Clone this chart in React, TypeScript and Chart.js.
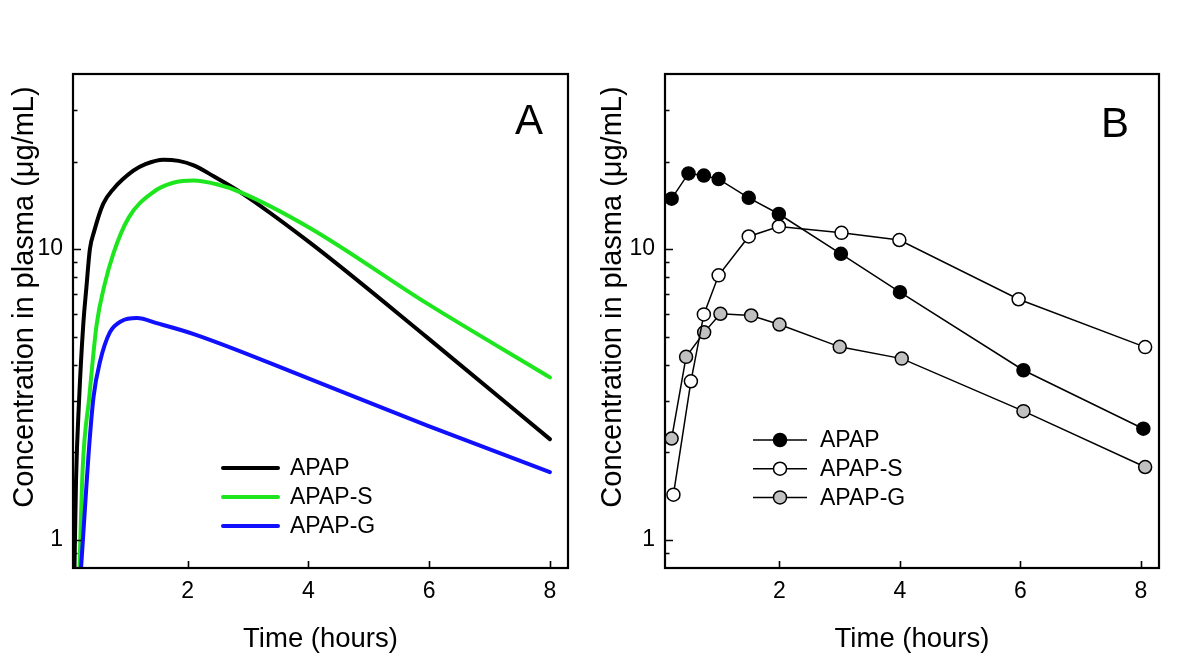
import React, { useEffect, useRef } from 'react';
import { Chart, registerables } from 'chart.js';

Chart.register(...registerables);

const FONT = "'Liberation Sans', Arial, Helvetica, sans-serif";

// ---------- Panel A: model curves (time in hours, concentration in µg/mL) ----------
const apapTimeA = [0.12, 0.15, 0.2, 0.27, 0.32, 0.38, 0.45, 0.6, 0.77, 1.1, 1.3, 1.6, 1.85, 2.1, 2.43, 2.87, 4.03, 5.97, 8.0];
const apapConcA = [0.7, 1.6, 3.0, 5.5, 7.3, 10.0, 11.5, 14.3, 16.1, 18.6, 19.6, 20.3, 20.1, 19.4, 17.8, 15.7, 10.5, 4.96, 2.22];

const apapSTimeA = [0.2, 0.26, 0.37, 0.49, 0.62, 0.77, 1.02, 1.43, 1.76, 2.1, 2.48, 2.87, 4.03, 5.97, 8.0];
const apapSConcA = [0.7, 1.75, 3.1, 5.47, 7.5, 9.67, 12.8, 15.7, 16.9, 17.2, 16.7, 15.7, 11.8, 6.49, 3.62];

const apapGTimeA = [0.215, 0.3, 0.36, 0.44, 0.55, 0.71, 0.9, 1.16, 1.5, 2.1, 4.03, 5.97, 8.0];
const apapGConcA = [0.7, 1.3, 2.0, 3.1, 4.12, 5.17, 5.65, 5.79, 5.55, 5.1, 3.57, 2.47, 1.71];

// ---------- Panel B: observed data ----------
const apapTimeB = [0.21, 0.49, 0.745, 0.99, 1.49, 1.99, 3.02, 4.0, 6.05, 8.04];
const apapConcB = [14.9, 18.2, 17.9, 17.4, 15.0, 13.2, 9.63, 7.11, 3.83, 2.41];

const apapSTimeB = [0.24, 0.53, 0.745, 0.99, 1.49, 1.99, 3.03, 3.99, 5.97, 8.07];
const apapSConcB = [1.43, 3.51, 5.96, 8.12, 11.05, 11.96, 11.37, 10.74, 6.72, 4.6];

const apapGTimeB = [0.21, 0.45, 0.75, 1.02, 1.53, 2.0, 3.0, 4.03, 6.05, 8.07];
const apapGConcB = [2.23, 4.26, 5.17, 5.99, 5.91, 5.5, 4.61, 4.2, 2.77, 1.78];

// ---------- Labels and ticks ----------
const seriesNames = ['APAP', 'APAP-S', 'APAP-G'];
const lineColorsA = ['#000000', '#1ee61e', '#1010ff'];
const markerFillsB = ['#000000', '#ffffff', '#c0c0c0'];
const xTickValues = [2, 4, 6, 8];
const yTickValues = [0.9, 1, 2, 3, 4, 5, 6, 7, 8, 9, 10, 20, 30];
const yLabeledTicks = [1, 10];
const xMin = 0.1;
const xMax = 8.3;
const yMin = 0.8;
const yMax = 40;
const xTitle = 'Time (hours)';
const yTitle = 'Concentration in plasma (\u03bcg/mL)';
const panelLetters = ['A', 'B'];

const toPoints = (xs: number[], ys: number[]) => xs.map((x, i) => ({ x, y: ys[i] }));

const decorPlugin = {
  id: 'panelDecor',
  afterDraw(chart: any, _args: any, opts: any) {
    const { ctx, chartArea } = chart;
    const { left, right, top, bottom } = chartArea;
    const xs = chart.scales.x;
    const ys = chart.scales.y;
    ctx.save();
    // frame
    ctx.strokeStyle = '#000';
    ctx.lineWidth = 2.2;
    ctx.strokeRect(left, top, right - left, bottom - top);
    // inward ticks x
    ctx.lineWidth = 1.6;
    ctx.beginPath();
    xs.ticks.forEach((t: any) => {
      const px = Math.round(xs.getPixelForValue(t.value)) + 0.5;
      ctx.moveTo(px, bottom);
      ctx.lineTo(px, bottom - 7);
    });
    // inward ticks y
    ys.ticks.forEach((t: any) => {
      const py = Math.round(ys.getPixelForValue(t.value)) + 0.5;
      const lg = Math.log10(t.value);
      const major = Math.abs(lg - Math.round(lg)) < 1e-9;
      ctx.moveTo(left, py);
      ctx.lineTo(left + (major ? 8 : 4.5), py);
    });
    ctx.stroke();

    // panel letter
    ctx.fillStyle = '#000';
    ctx.font = `42px ${FONT}`;
    ctx.textAlign = 'left';
    ctx.textBaseline = 'alphabetic';
    ctx.fillText(opts.letter, left + opts.letterDx, top + opts.letterDy);

    // y title
    ctx.save();
    ctx.translate(opts.yTitleX, opts.yTitleY);
    ctx.rotate(-Math.PI / 2);
    ctx.font = `29px ${FONT}`;
    ctx.textAlign = 'center';
    ctx.textBaseline = 'middle';
    ctx.fillText(yTitle, 0, 0);
    ctx.restore();

    // legend
    const lg = opts.legend;
    ctx.font = `23px ${FONT}`;
    ctx.textBaseline = 'middle';
    seriesNames.forEach((name, i) => {
      const y = top + lg.row0 + i * lg.rowGap;
      const ds = chart.data.datasets[i];
      if (lg.kind === 'line') {
        ctx.strokeStyle = ds.borderColor;
        ctx.lineWidth = 4;
        ctx.lineCap = 'round';
        ctx.beginPath();
        ctx.moveTo(left + lg.x0, y);
        ctx.lineTo(left + lg.x1, y);
        ctx.stroke();
      } else {
        ctx.strokeStyle = '#000';
        ctx.lineWidth = 1.5;
        ctx.lineCap = 'butt';
        ctx.beginPath();
        ctx.moveTo(left + lg.x0, y);
        ctx.lineTo(left + lg.x1, y);
        ctx.stroke();
        ctx.beginPath();
        ctx.arc(left + (lg.x0 + lg.x1) / 2, y, 6.5, 0, Math.PI * 2);
        ctx.fillStyle = ds.pointBackgroundColor;
        ctx.fill();
        ctx.stroke();
      }
      ctx.fillStyle = '#000';
      ctx.fillText(name, left + lg.textX, y + 1);
    });
    ctx.restore();
  },
};

function makeScales(yAxisWidth: number) {
  return {
    x: {
      type: 'linear',
      min: xMin,
      max: xMax,
      afterBuildTicks: (s: any) => {
        s.ticks = xTickValues.map((v) => ({ value: v }));
      },
      afterFit: (s: any) => {
        s.height = 104;
      },
      grid: { display: false, drawTicks: false },
      border: { display: false },
      ticks: {
        autoSkip: false,
        maxRotation: 0,
        padding: 10,
        color: '#000',
        font: { size: 23, family: FONT },
      },
      title: {
        display: true,
        text: xTitle,
        color: '#000',
        font: { size: 27.5, family: FONT },
        padding: { top: 0, bottom: 16 },
      },
    },
    y: {
      type: 'logarithmic',
      min: yMin,
      max: yMax,
      afterBuildTicks: (s: any) => {
        s.ticks = yTickValues.map((v) => ({ value: v }));
      },
      afterFit: (s: any) => {
        s.width = yAxisWidth;
      },
      grid: { display: false, drawTicks: false },
      border: { display: false },
      ticks: {
        autoSkip: false,
        padding: 10,
        color: '#000',
        font: { size: 23, family: FONT },
        callback: (v: any) => (yLabeledTicks.includes(Number(v)) ? String(v) : ''),
      },
      title: { display: false },
    },
  };
}

function configA(): any {
  const series = [
    toPoints(apapTimeA, apapConcA),
    toPoints(apapSTimeA, apapSConcA),
    toPoints(apapGTimeA, apapGConcA),
  ];
  return {
    type: 'line',
    data: {
      datasets: series.map((d, i) => ({
        label: seriesNames[i],
        data: d,
        borderColor: lineColorsA[i],
        backgroundColor: lineColorsA[i],
        borderWidth: 4,
        borderCapStyle: 'round',
        borderJoinStyle: 'round',
        pointRadius: 0,
        cubicInterpolationMode: 'monotone',
        fill: false,
        order: 3 - i,
      })),
    },
    options: {
      animation: false,
      responsive: false,
      devicePixelRatio: 1,
      layout: { padding: { left: 0, top: 74, right: 32, bottom: 0 } },
      scales: makeScales(73),
      plugins: {
        legend: { display: false },
        tooltip: { enabled: false },
        panelDecor: {
          letter: panelLetters[0],
          letterDx: 442,
          letterDy: 60,
          yTitleX: 25,
          yTitleY: 297,
          legend: { kind: 'line', x0: 150, x1: 205, textX: 217, row0: 394, rowGap: 29 },
        },
      },
    },
    plugins: [decorPlugin],
  };
}

function configB(): any {
  const series = [
    toPoints(apapTimeB, apapConcB),
    toPoints(apapSTimeB, apapSConcB),
    toPoints(apapGTimeB, apapGConcB),
  ];
  return {
    type: 'line',
    data: {
      datasets: series.map((d, i) => ({
        label: seriesNames[i],
        data: d,
        borderColor: '#000',
        borderWidth: 1.5,
        pointRadius: 6.5,
        pointBorderWidth: 1.5,
        pointBorderColor: '#000',
        pointBackgroundColor: markerFillsB[i],
        tension: 0,
        fill: false,
      })),
    },
    options: {
      animation: false,
      responsive: false,
      devicePixelRatio: 1,
      layout: { padding: { left: 0, top: 74, right: 41, bottom: 0 } },
      scales: makeScales(65),
      plugins: {
        legend: { display: false },
        tooltip: { enabled: false },
        panelDecor: {
          letter: panelLetters[1],
          letterDx: 436,
          letterDy: 63,
          yTitleX: 13,
          yTitleY: 297,
          legend: { kind: 'marker', x0: 88, x1: 142, textX: 155, row0: 366, rowGap: 28.7 },
        },
      },
    },
    plugins: [decorPlugin],
  };
}

function Panel({ left, makeConfig }: { left: number; makeConfig: () => any }) {
  const ref = useRef<HTMLCanvasElement>(null);
  useEffect(() => {
    if (!ref.current) return;
    const chart = new Chart(ref.current, makeConfig());
    return () => chart.destroy();
  }, []);
  return (
    <div style={{ position: 'absolute', left, top: 0, width: 600, height: 672 }}>
      <canvas ref={ref} width={600} height={672} style={{ display: 'block', width: 600, height: 672 }} />
    </div>
  );
}

export default function App() {
  return (
    <div style={{ position: 'absolute', left: 0, top: 0, width: 1200, height: 672, background: '#fff' }}>
      <Panel left={0} makeConfig={configA} />
      <Panel left={600} makeConfig={configB} />
    </div>
  );
}
